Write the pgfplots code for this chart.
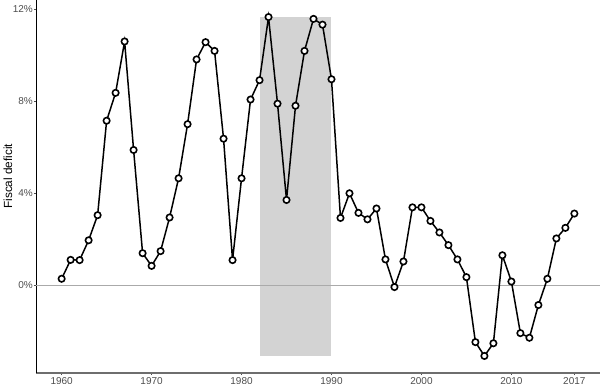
\documentclass[border=0pt]{standalone}
\usepackage{pgfplots}
\pgfplotsset{compat=1.18}
\usepackage{fontspec}
\setmainfont{Liberation Sans}
\definecolor{tickgray}{RGB}{77,77,77}
\definecolor{shade}{RGB}{211,211,211}
\definecolor{zerogray}{RGB}{170,170,170}
\definecolor{xaxisgray}{RGB}{110,110,110}
\begin{document}
\begin{tikzpicture}[x=1pt,y=1pt]
\begin{axis}[
  scale only axis,
  width=564pt, height=373pt,
  xmin=1957.15, xmax=2019.85,
  ymin=-3.80, ymax=12.39,
  axis x line*=bottom, axis y line*=left,
  x axis line style={-, xaxisgray, line width=1.3pt},
  y axis line style={-, black, line width=0.9pt},
  xtick={1960,1970,1980,1990,2000,2010,2017},
  xticklabels={1960,1970,1980,1990,2000,2010,2017},
  ytick={0,4,8,12},
  yticklabels={0\%,4\%,8\%,12\%},
  tick align=outside,
  major tick length=2.2pt,
  tick style={tickgray, line width=0.6pt},
  every tick label/.append style={font=\fontsize{10}{11}\selectfont, text=tickgray},
  yticklabel style={inner sep=0.8pt},
  xticklabel style={inner sep=0.5pt, yshift=-1.5pt},
  /pgf/number format/assume math mode=true,
  /pgf/number format/1000 sep={},
  clip=false,
]
\addplot[fill=shade, draw=none] coordinates {(1982,-3.06) (1990,-3.06) (1990,11.65) (1982,11.65)} -- cycle;
\addplot[zerogray, line width=0.9pt] coordinates {(1957.15,0) (2019.85,0)};
\addplot[black, line width=1.5pt, mark=*, mark size=3.2pt,
  mark options={fill=white, draw=black, line width=1.6pt}] coordinates {
(1960,0.29) (1961,1.11) (1962,1.10) (1963,1.96) (1964,3.05) (1965,7.15)
(1966,8.36) (1967,10.59) (1968,5.88) (1969,1.40) (1970,0.85) (1971,1.49)
(1972,2.95) (1973,4.65) (1974,7.00) (1975,9.81) (1976,10.56) (1977,10.18)
(1978,6.37) (1979,1.10) (1980,4.65) (1981,8.07) (1982,8.91) (1983,11.65)
(1984,7.89) (1985,3.71) (1986,7.80) (1987,10.18) (1988,11.57) (1989,11.32)
(1990,8.95) (1991,2.93) (1992,4.00) (1993,3.15) (1994,2.87) (1995,3.34)
(1996,1.13) (1997,-0.07) (1998,1.04) (1999,3.39) (2000,3.39) (2001,2.80)
(2002,2.30) (2003,1.75) (2004,1.13) (2005,0.36) (2006,-2.46) (2007,-3.06)
(2008,-2.51) (2009,1.31) (2010,0.17) (2011,-2.07) (2012,-2.27) (2013,-0.85)
(2014,0.29) (2015,2.04) (2016,2.50) (2017,3.12)};
\coordinate (ll) at (rel axis cs:0,0);
\coordinate (ur) at (rel axis cs:1,1);
\coordinate (lab) at (axis cs:1957.15,4.74);
\end{axis}
\node[rotate=90, font=\fontsize{11.8}{13}\selectfont, inner sep=0pt, xshift=-28pt] at (lab) {};
\node[rotate=90, font=\fontsize{11.8}{13}\selectfont, inner sep=0pt] at ([xshift=-28pt]lab) {Fiscal deficit};
\pgfresetboundingbox
\path (ll) ++(-36pt,-11pt) rectangle (ur);
\end{tikzpicture}
\end{document}
